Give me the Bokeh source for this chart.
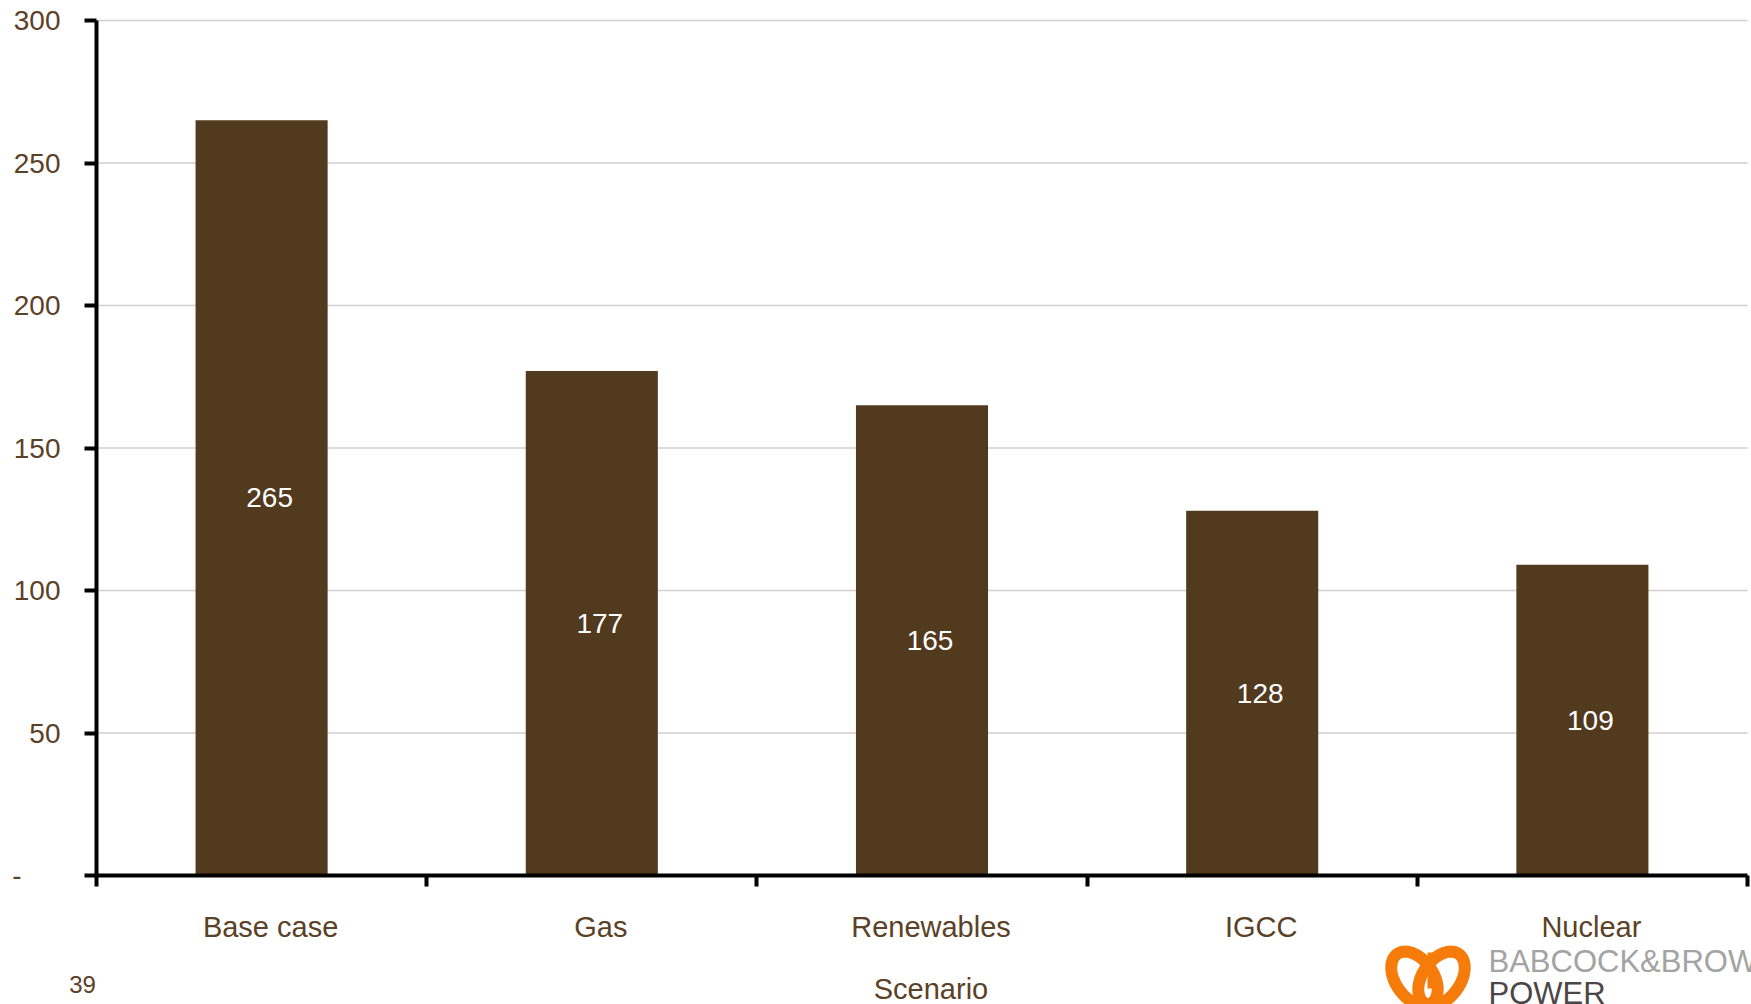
import numpy as np
from bokeh.plotting import figure
from bokeh.models import Range1d, FixedTicker, CustomJSTickFormatter, Label
from bokeh.core.properties import value
from bokeh.embed import file_html
from bokeh.resources import INLINE

# --- data -------------------------------------------------------------
categories = ["Base case", "Gas", "Renewables", "IGCC", "Nuclear"]
values = [265, 177, 165, 128, 109]
y_ticks = [0, 50, 100, 150, 200, 250, 300]
y_max = 300
x_title = "Scenario"
page_number = "39"

# --- style ------------------------------------------------------------
BAR = "#523a1e"
TEXT = "#5b4126"
GRID = "#d0d0d0"
ORANGE = "#f57c0a"
FONT = "Liberation Sans"

W, H = 1751, 1004
# plotting area in page pixels (left, right, top, bottom)
AX_L, AX_R, AX_T, AX_B = 96, 1747, 20, 875

n = len(categories)
x_px = (AX_R - AX_L) / n
y_px = (AX_B - AX_T) / y_max

# the frame fills the whole page; the axes sit at fixed data locations so the
# page number and logo can live in the margins
p = figure(width=W, height=H, output_backend="svg", toolbar_location=None,
           x_range=Range1d(-AX_L / x_px, n + (W - AX_R) / x_px),
           y_range=Range1d(-(H - AX_B) / y_px, y_max + AX_T / y_px),
           min_border_left=0, min_border_right=0,
           min_border_top=0, min_border_bottom=0)
p.outline_line_color = None
p.background_fill_color = "white"
p.border_fill_color = "white"
p.xgrid.visible = False
p.ygrid.visible = False

# pixel-space ranges for the page furniture (titles, page number, logo)
p.extra_x_ranges = {"px": Range1d(0, W)}
p.extra_y_ranges = {"py": Range1d(H, 0)}

# --- horizontal gridlines ----------------------------------------------
gl = y_ticks[1:]
p.segment(x0=[0] * len(gl), x1=[n] * len(gl), y0=gl, y1=gl,
          line_color=GRID, line_width=1.5)

# --- bars and value labels -------------------------------------------
xs = [i + 0.5 for i in range(n)]
p.vbar(x=xs, top=values, width=0.4, fill_color=BAR, line_color=None)
p.text(x=xs, y=[v / 2 for v in values], text=[str(v) for v in values],
       text_font=value(FONT), text_font_size="28px", text_color="white",
       text_align="center", text_baseline="middle", x_offset=8)

# --- x axis: labels centred, ticks on category boundaries -------------
label_shift = 9 / x_px
xax = p.xaxis[0]
xax.fixed_location = 0
xax.bounds = (0, n)
xax.ticker = FixedTicker(ticks=[x + label_shift for x in xs],
                         minor_ticks=list(range(n + 1)))
xax.formatter = CustomJSTickFormatter(args=dict(names=categories),
                                      code="return names[Math.floor(tick)] || ''")
xax.axis_line_width = 4
xax.axis_line_color = "black"
xax.major_tick_out = 0
xax.major_tick_in = 0
xax.minor_tick_out = 11
xax.minor_tick_in = 0
xax.minor_tick_line_width = 4
xax.minor_tick_line_color = "black"
xax.major_label_text_font = FONT
xax.major_label_text_font_size = "29px"
xax.major_label_text_color = TEXT
xax.major_label_standoff = 24

# axis title, centred under the plotting area
p.add_layout(Label(x=(AX_L + AX_R) / 2 + 9, y=988, x_range_name="px", y_range_name="py",
                   text=x_title, text_font=FONT, text_font_size="29px",
                   text_color=TEXT, text_align="center", text_baseline="middle"))

# --- y axis -----------------------------------------------------------
yax = p.yaxis[0]
yax.fixed_location = 0
yax.bounds = (0, y_max)
yax.ticker = FixedTicker(ticks=y_ticks, minor_ticks=[])
yax.major_label_overrides = {0: "-" + "\u00a0" * 5}
yax.axis_line_width = 4
yax.axis_line_color = "black"
yax.major_tick_out = 12
yax.major_tick_in = 0
yax.major_tick_line_width = 4
yax.major_tick_line_color = "black"
yax.minor_tick_out = 0
yax.minor_tick_in = 0
yax.major_label_text_font = FONT
yax.major_label_text_font_size = "28px"
yax.major_label_text_color = TEXT
yax.major_label_standoff = 24

# --- page number ------------------------------------------------------
p.add_layout(Label(x=82, y=984, x_range_name="px", y_range_name="py",
                   text=page_number, text_font=FONT, text_font_size="24px",
                   text_color=TEXT, text_align="center", text_baseline="middle"))

# --- company logo -----------------------------------------------------
def ring(cx, cy, a, b, angle_deg, k=90):
    t = np.linspace(0, 2 * np.pi, k, endpoint=False)
    th = np.deg2rad(angle_deg)
    x = cx + a * np.cos(t) * np.cos(th) - b * np.sin(t) * np.sin(th)
    y = cy + a * np.cos(t) * np.sin(th) + b * np.sin(t) * np.cos(th)
    return list(x), list(y)

loops = [ring(1414, 978, 30, 19, 55), ring(1441, 978, 30, 19, 125)]
p.patches(xs=[l[0] for l in loops], ys=[l[1] for l in loops],
          fill_alpha=0, line_color=ORANGE, line_width=12,
          x_range_name="px", y_range_name="py")
p.quad(left=[1427], right=[1434], top=[952], bottom=[988],
       fill_color=ORANGE, line_color=None,
       x_range_name="px", y_range_name="py")

p.add_layout(Label(x=1488, y=961, x_range_name="px", y_range_name="py",
                   text="BABCOCK&BROWN", text_font=FONT, text_font_size="31px",
                   text_color="#a3a3a3", text_baseline="middle"))
p.add_layout(Label(x=1488, y=993, x_range_name="px", y_range_name="py",
                   text="POWER", text_font=FONT, text_font_size="31px",
                   text_color="#4d4646", text_baseline="middle"))

open("out.html", "w").write(file_html(p, INLINE))
